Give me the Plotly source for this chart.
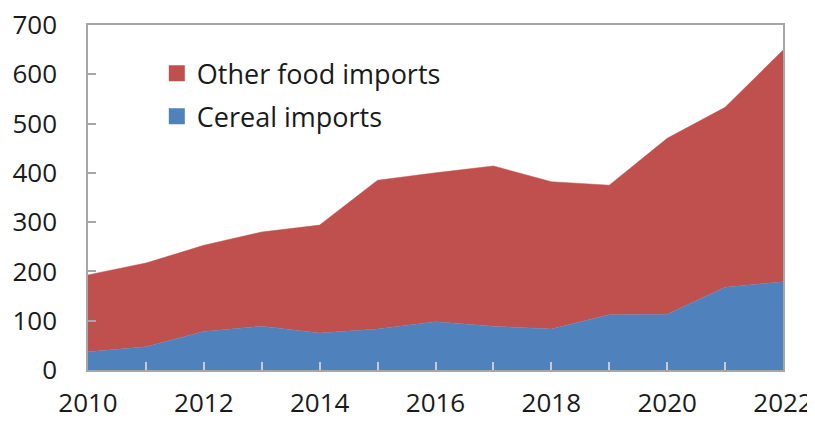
import plotly.graph_objects as go

years = list(range(2010, 2023))
cereal_imports = [37, 47, 78, 89, 75, 83, 98, 89, 83, 112, 113, 168, 179]
other_food_imports = [156, 170, 175, 191, 219, 302, 302, 325, 299, 263, 357, 365, 470]
x_tick_text = [str(y) if y % 2 == 0 else "" for y in years]
y_tick_vals = [0, 100, 200, 300, 400, 500, 600, 700]

RED = "#C0504D"
BLUE = "#4F81BD"

fig = go.Figure()
fig.add_trace(go.Scatter(x=years, y=cereal_imports, stackgroup="one", mode="lines",
                         line=dict(width=0.5, color=BLUE), fillcolor=BLUE,
                         name="Cereal imports", showlegend=False))
fig.add_trace(go.Scatter(x=years, y=other_food_imports, stackgroup="one", mode="lines",
                         line=dict(width=0.5, color=RED), fillcolor=RED,
                         name="Other food imports", showlegend=False))
# legend entries (square markers)
fig.add_trace(go.Scatter(x=[None], y=[None], mode="markers", name="Other food imports",
                         marker=dict(symbol="square", size=18, color=RED), legendgroup="a"))
fig.add_trace(go.Scatter(x=[None], y=[None], mode="markers", name="Cereal imports",
                         marker=dict(symbol="square", size=18, color=BLUE), legendgroup="b"))

# page body adds an 8px offset; figure sized/margined to compensate
fig.update_layout(
    width=807, height=413,
    margin=dict(l=80, r=32, t=17, b=51),
    paper_bgcolor="white", plot_bgcolor="white",
    font=dict(family="Open Sans", size=26, color="#1a1a1a"),
    showlegend=True,
    legend=dict(x=0.099, y=0.93, xanchor="left", yanchor="top",
                bgcolor="rgba(0,0,0,0)", traceorder="grouped",
                tracegroupgap=5, font=dict(size=27)),
    xaxis=dict(range=[2010, 2022], tickvals=years, ticktext=x_tick_text,
               ticks="inside", ticklen=8, tickcolor="#C8C8D8", tickwidth=1.5,
               showline=True, linecolor="#A6A6A6", linewidth=1.5, mirror=True,
               showgrid=False, zeroline=False, ticklabelstandoff=9,
               ticklabeloverflow="allow",
               automargin=False, tickfont=dict(size=26)),
    yaxis=dict(range=[0, 700], tickvals=y_tick_vals,
               ticks="inside", ticklen=8, tickcolor="#A6A6A6", tickwidth=1.5,
               showline=True, linecolor="#A6A6A6", linewidth=1.5, mirror=True,
               showgrid=False, zeroline=False, ticklabelstandoff=24,
               ticklabeloverflow="allow",
               automargin=False, tickfont=dict(size=26)),
)

fig.write_html("out.html")
